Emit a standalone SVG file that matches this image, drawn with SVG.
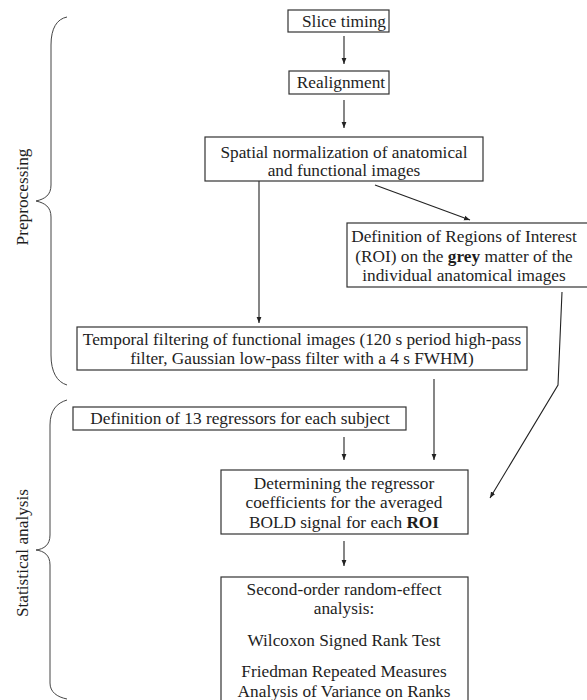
<svg xmlns="http://www.w3.org/2000/svg" width="587" height="700" viewBox="0 0 587 700">
<defs>
<marker id="ah" viewBox="0 0 10 10" refX="10" refY="5" markerWidth="6" markerHeight="6" orient="auto" markerUnits="userSpaceOnUse">
<path d="M0,1 L10,5 L0,9 z" fill="#222"/>
</marker>
<style>
text{font-family:"Liberation Serif","Times New Roman",serif;font-size:17.3px;fill:#1e1e1e;text-anchor:middle}
.box{fill:#fff;stroke:#333;stroke-width:1.2}
.ln{fill:none;stroke:#222;stroke-width:1.1}
.br{fill:none;stroke:#444;stroke-width:1}
.b{font-weight:bold}
</style>
</defs>
<rect width="587" height="700" fill="#fff"/>
<g id="connectors">
<line class="ln" x1="344" y1="36" x2="344" y2="64" marker-end="url(#ah)"/>
<line class="ln" x1="344" y1="100" x2="344" y2="128" marker-end="url(#ah)"/>
<line class="ln" x1="259" y1="181" x2="259" y2="323" marker-end="url(#ah)"/>
<line class="ln" x1="375" y1="185" x2="470" y2="220" marker-end="url(#ah)"/>
<polyline class="ln" points="562,292 558,385 490,498" marker-end="url(#ah)"/>
<line class="ln" x1="434" y1="379" x2="434" y2="460" marker-end="url(#ah)"/>
<line class="ln" x1="344" y1="437" x2="344" y2="460" marker-end="url(#ah)"/>
<line class="ln" x1="344" y1="541" x2="344" y2="566" marker-end="url(#ah)"/>
</g>
<g id="brace-preprocessing">
<path class="br" d="M67,17 C57,19 51,28 51,45 L51,185 C51,195 45,199 36,201 C45,203 51,207 51,217 L51,355 C51,372 57,382 67,385"/>
<text transform="translate(28,197) rotate(-90)">Preprocessing</text>
</g>
<g id="brace-statistical">
<path class="br" d="M67,400 C57,403 50,410 50,425 L50,535 C50,545 44,549 36,550 C44,551 50,555 50,565 L50,683 C50,692 57,697 67,699"/>
<text transform="translate(28,553) rotate(-90)">Statistical analysis</text>
</g>
<g id="slice-timing">
<rect class="box" x="288" y="10" width="101" height="22"/>
<text x="344" y="27">Slice timing</text>
</g>
<g id="realignment">
<rect class="box" x="289" y="71" width="100" height="23"/>
<text x="341" y="88">Realignment</text>
</g>
<g id="spatial-normalization">
<rect class="box" x="205" y="137" width="278" height="44"/>
<text x="344" y="158">Spatial normalization of anatomical</text>
<text x="344" y="176">and functional images</text>
</g>
<g id="roi-definition">
<rect class="box" x="347" y="223" width="250" height="64"/>
<text x="464" y="242">Definition of Regions of Interest</text>
<text x="464" y="262">(ROI) on the <tspan class="b">grey</tspan> matter of the</text>
<text x="464" y="281">individual anatomical images</text>
</g>
<g id="temporal-filtering">
<rect class="box" x="77" y="327" width="450" height="43"/>
<text x="302" y="345">Temporal filtering of functional images (120 s period high-pass</text>
<text x="302" y="364">filter, Gaussian low-pass filter with a 4 s FWHM)</text>
</g>
<g id="regressors">
<rect class="box" x="73" y="407" width="333" height="23"/>
<text x="240" y="424">Definition of 13 regressors for each subject</text>
</g>
<g id="determining">
<rect class="box" x="221" y="470" width="247" height="64"/>
<text x="344" y="489">Determining the regressor</text>
<text x="344" y="508">coefficients for the averaged</text>
<text x="344" y="528">BOLD signal for each <tspan class="b">ROI</tspan></text>
</g>
<g id="second-order">
<rect class="box" x="221" y="577" width="247" height="140"/>
<text x="344" y="595">Second-order random-effect</text>
<text x="344" y="614">analysis:</text>
<text x="344" y="646">Wilcoxon Signed Rank Test</text>
<text x="344" y="677">Friedman Repeated Measures</text>
<text x="344" y="697">Analysis of Variance on Ranks</text>
</g>
</svg>
